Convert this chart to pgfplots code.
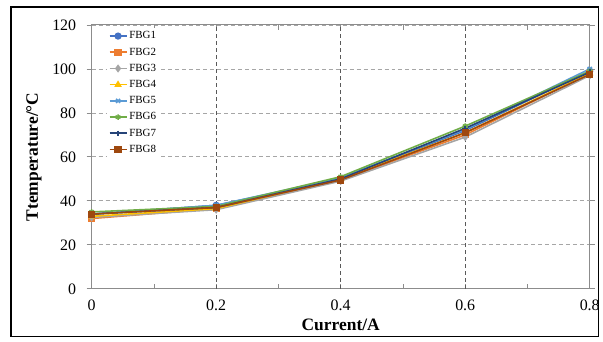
\documentclass[border=0pt]{standalone}
\usepackage{pgfplots}
\pgfplotsset{compat=1.18}
\usepackage{fontspec}
\setmainfont{Liberation Serif}
\definecolor{c1}{HTML}{4472C4}
\definecolor{c2}{HTML}{ED7D31}
\definecolor{c3}{HTML}{A5A5A5}
\definecolor{c4}{HTML}{FFC000}
\definecolor{c5}{HTML}{5B9BD5}
\definecolor{c6}{HTML}{70AD47}
\definecolor{c7}{HTML}{264478}
\definecolor{c8}{HTML}{9E480E}
\definecolor{axgray}{HTML}{8C8C8C}
\definecolor{gridlight}{HTML}{A6A6A6}
\definecolor{griddark}{HTML}{595959}
\begin{document}
\begin{tikzpicture}
\begin{axis}[
  at={(0,0)}, anchor=south west,
  scale only axis, width=500bp, height=265bp,
  xmin=0, xmax=0.8, ymin=0, ymax=120,
  xtick={0,0.2,0.4,0.6,0.8},
  ytick={0,20,...,120},
  minor xtick={0.1,0.3,0.5,0.7},
  xticklabels={0,0.2,0.4,0.6,0.8},
  axis line style={axgray, line width=0.9bp},
  x tick style={axgray, line width=0.8bp},
  y tick style={axgray, line width=0.8bp},
  xtick align=inside, ytick align=outside,
  major tick length=5bp, minor tick length=5bp,
  tick label style={font=\fontsize{16bp}{19bp}\selectfont, black},
  /pgf/number format/assume math mode=true,
  xticklabel style={yshift=-8bp},
  yticklabel style={xshift=-7bp},
  ymajorgrids=true,
  yminorgrids=false,
  y grid style={gridlight, line width=0.8bp, dash pattern=on 4bp off 3bp},
  extra x ticks={0.2,0.4,0.6},
  extra x tick labels={},
  extra x tick style={grid=major, major grid style={griddark, line width=0.9bp, dash pattern=on 4bp off 3bp}, tick style={draw=none}},
  extra y ticks={40},
  extra y tick labels={},
  extra y tick style={grid=major, major grid style={griddark, line width=0.9bp, dash pattern=on 4bp off 3bp}},
  xlabel={\textbf{Current/A}},
  ylabel={\textbf{Ttemperature/°C}},
  label style={font=\fontsize{17.5bp}{20bp}\selectfont},
  xlabel style={yshift=-1bp},
  ylabel style={yshift=-6bp},
  legend style={at={(0.03,0.99)}, anchor=north west, draw=none, fill=white,
    font=\fontsize{11bp}{13bp}\selectfont, row sep=3.5bp, inner sep=2bp},
  legend cell align=left,
  legend image post style={sharp plot},
  every axis plot/.append style={line width=1.6bp, mark size=2.8bp},
]
\addplot[c1, mark=*, mark options={fill=c1}] coordinates {(0,34) (0.2,38) (0.4,50) (0.6,72) (0.8,99)};
\addplot[c2, mark=square*, mark options={fill=c2}] coordinates {(0,32) (0.2,36.5) (0.4,49.5) (0.6,70) (0.8,98)};
\addplot[c3, mark=diamond*, mark options={fill=c3}] coordinates {(0,32.5) (0.2,36) (0.4,49) (0.6,69) (0.8,97)};
\addplot[c4, mark=triangle*, mark options={fill=c4}] coordinates {(0,33) (0.2,36.5) (0.4,50) (0.6,71) (0.8,98)};
\addplot[c5, mark=x] coordinates {(0,34) (0.2,38) (0.4,50.5) (0.6,72.5) (0.8,100)};
\addplot[c6, mark=asterisk] coordinates {(0,35) (0.2,37.5) (0.4,51) (0.6,74) (0.8,99)};
\addplot[c7, mark=+] coordinates {(0,34) (0.2,37) (0.4,50) (0.6,73) (0.8,98.5)};
\addplot[c8, mark=square*, mark options={fill=c8}] coordinates {(0,34) (0.2,37) (0.4,49.5) (0.6,71) (0.8,97.5)};
\legend{FBG1,FBG2,FBG3,FBG4,FBG5,FBG6,FBG7,FBG8}
\end{axis}
\draw[black, line width=1.4bp] (-81bp,-48bp) rectangle (509bp,283bp);
\path[use as bounding box] (-92bp,-53bp) rectangle (511bp,290bp);
\end{tikzpicture}
\end{document}
